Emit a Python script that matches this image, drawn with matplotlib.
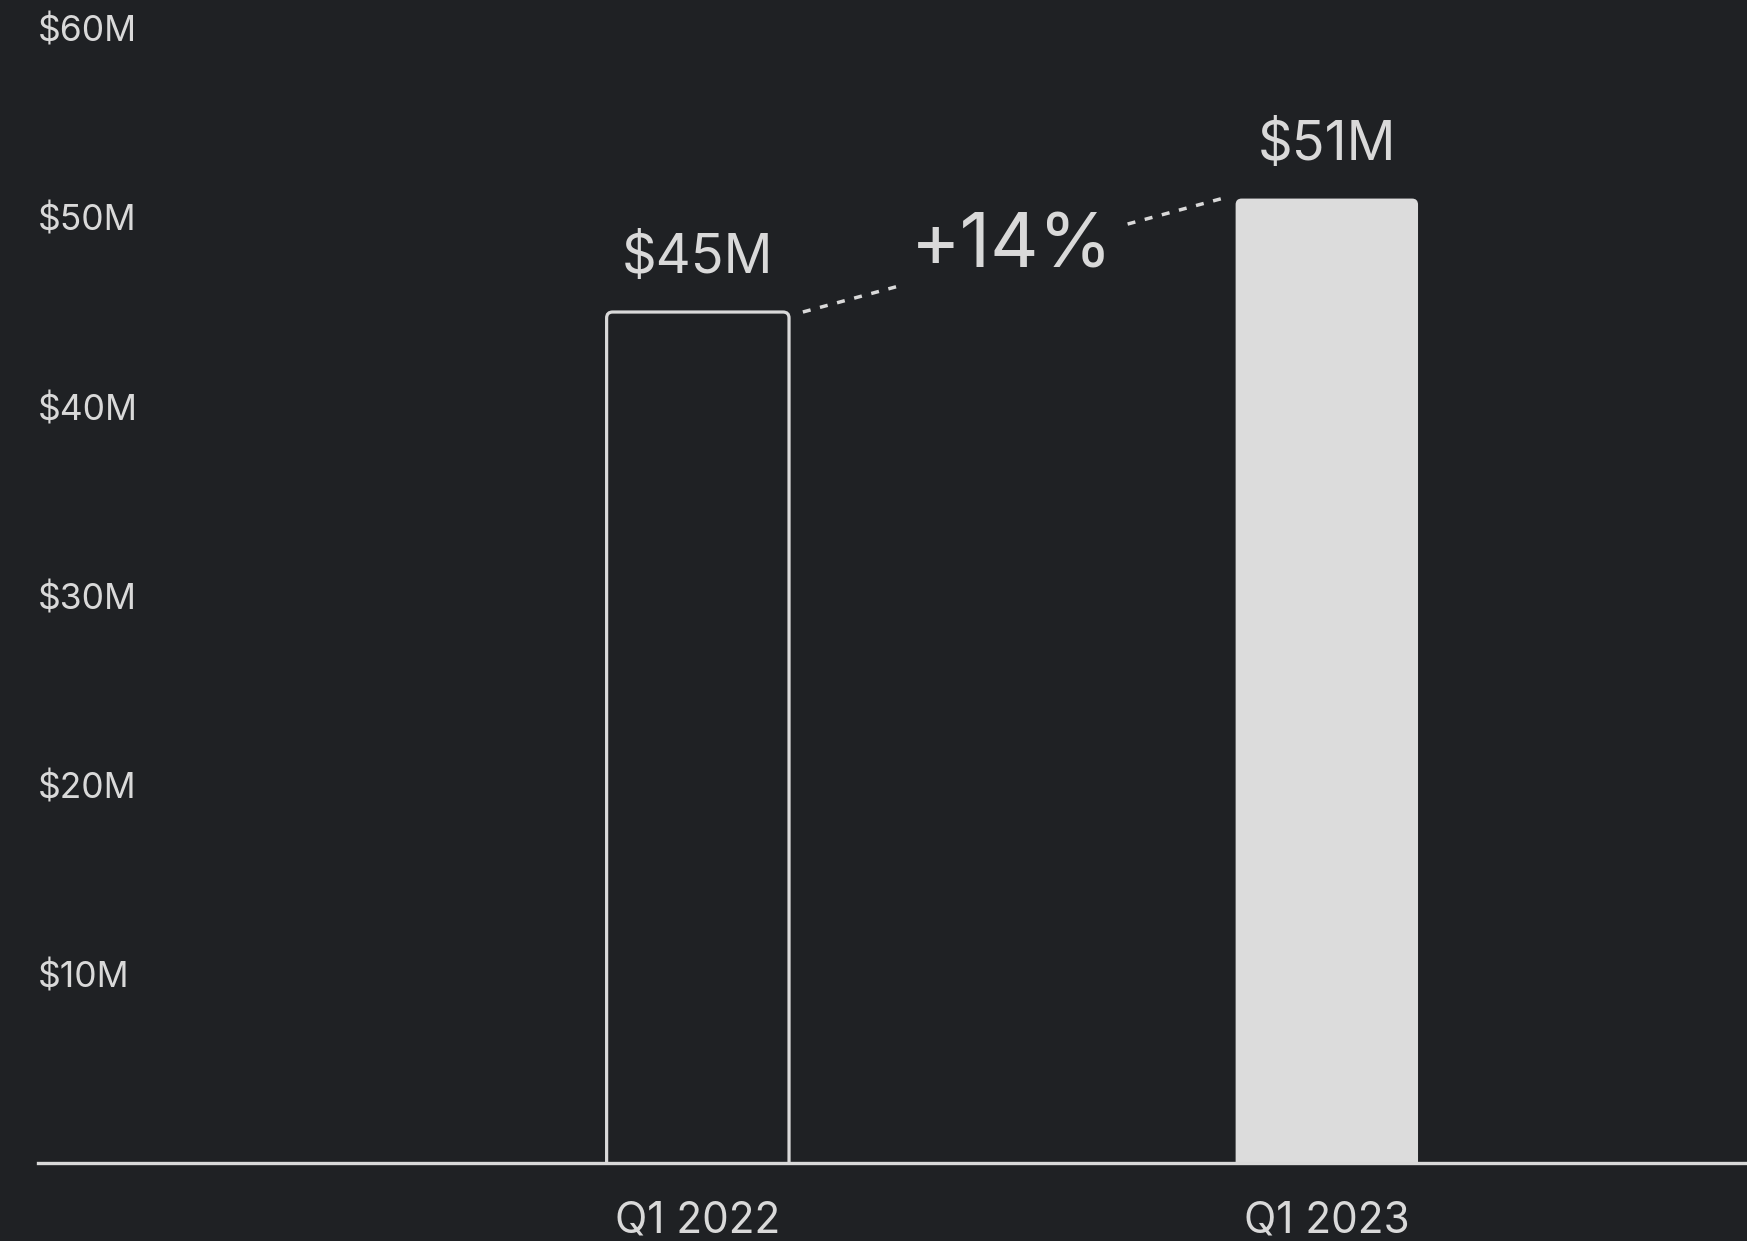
import matplotlib
matplotlib.use("Agg")
import matplotlib.pyplot as plt
from matplotlib.patches import FancyBboxPatch

# Quarterly revenue data
quarters = ["Q1 2022", "Q1 2023"]
revenue_m = [45, 51]
value_labels = ["$45M", "$51M"]
growth_label = "+14%"
ytick_values = [10, 20, 30, 40, 50, 60]
ytick_labels = ["$10M", "$20M", "$30M", "$40M", "$50M", "$60M"]

BG = "#1f2124"
FG = "#d9d9d9"
BAR_FILL = "#dcdcdc"

plt.rcParams["font.family"] = ["Inter", "DejaVu Sans"]

W, H, DPI = 1747, 1241, 100
fig = plt.figure(figsize=(W / DPI, H / DPI), dpi=DPI, facecolor=BG)

ax_left, ax_bottom_px = 38, 1163
ax = fig.add_axes([ax_left / W, 1 - ax_bottom_px / H, 1 - ax_left / W, ax_bottom_px / H])
ax.set_facecolor(BG)

x = [0, 1]
bar_w = 0.29
ax.set_xlim(-1.049, 1.668)
ax.set_ylim(0, 61.5)

bars = ax.bar(x, revenue_m, width=bar_w, color="none", edgecolor="none")

# rounded-corner bars, radius expressed in pixels
ax_w_px = W - ax_left
ax_h_px = ax_bottom_px
x_per_px = (ax.get_xlim()[1] - ax.get_xlim()[0]) / ax_w_px
y_per_px = (ax.get_ylim()[1] - ax.get_ylim()[0]) / ax_h_px
radius_px = 6
styles = [
    dict(facecolor="none", edgecolor=FG, linewidth=2.3),
    dict(facecolor=BAR_FILL, edgecolor="none", linewidth=0),
]
for rect, st in zip(bars.patches, styles):
    bx, by = rect.get_x(), rect.get_y()
    bw, bh = rect.get_width(), rect.get_height()
    ext = 1.0  # extend below the baseline; clipped by the axes
    patch = FancyBboxPatch(
        (bx, by - ext), bw, bh + ext,
        boxstyle=f"round,pad=0,rounding_size={radius_px * x_per_px}",
        mutation_aspect=y_per_px / x_per_px,
        clip_on=True, zorder=2, **st)
    ax.add_patch(patch)
    rect.set_visible(False)

# value labels above each bar
for xi, v, lab in zip(x, revenue_m, value_labels):
    ax.annotate(lab, (xi, v), xytext=(0, 38.5), textcoords="offset points",
                ha="center", va="center", fontsize=39, color=FG)

# dotted connector with growth label
gap = 0.022
x0, x1 = x[0] + bar_w / 2 + gap, x[1] - bar_w / 2 - gap
ax.plot([x0, x1], [revenue_m[0], revenue_m[1]], color=FG, lw=2.5,
        dashes=(2.3, 2.8), dash_capstyle="butt", zorder=3)
ax.text((x0 + x1) / 2, (revenue_m[0] + revenue_m[1]) / 2 + 0.4, growth_label,
        ha="center", va="center", fontsize=54, color=FG, zorder=4,
        bbox=dict(boxstyle="square,pad=0.12", facecolor=BG, edgecolor="none"))

# baseline
ax.axhline(0, color=FG, lw=2.4, clip_on=False, zorder=5)

for s in ax.spines.values():
    s.set_visible(False)

ax.set_yticks(ytick_values)
ax.set_yticklabels(ytick_labels)
ax.tick_params(axis="y", length=0, pad=0, labelsize=25.5, labelcolor=FG)
for lbl in ax.get_yticklabels():
    lbl.set_horizontalalignment("left")

ax.set_xticks(x)
ax.set_xticklabels(quarters)
ax.tick_params(axis="x", length=0, pad=27, labelsize=30.5, labelcolor=FG)

fig.savefig("out.png", dpi=DPI, facecolor=BG)
